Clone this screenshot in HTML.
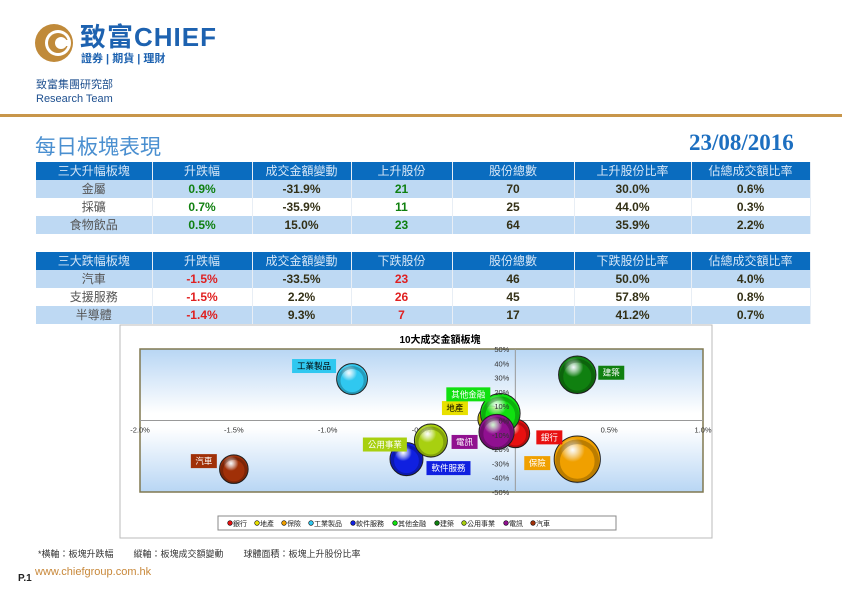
<!DOCTYPE html>
<html><head><meta charset="utf-8">
<style>
body{margin:0;width:842px;height:595px;background:#fff;position:relative;overflow:hidden;font-family:"Liberation Sans","Noto Sans CJK TC",sans-serif}
.abs{position:absolute}
table{position:absolute;left:36px;border-collapse:collapse;table-layout:fixed;width:774px;font-size:12px}
td{height:18px;padding:0;text-align:center;border-right:1px solid #e8eef5;line-height:18px}
tr.h td{background:#0a6cbf;color:#d6e6f6;font-size:12px}
tr.o td{background:#bed9f3}
tr.e td{background:#fff}
td.n{font-weight:bold;color:#333016}
td.nm{color:#555}
.g{color:#108010!important;font-weight:bold}
.r{color:#e02020!important;font-weight:bold}
</style></head><body>
<div class="abs" style="left:34px;top:23px;width:40px;height:40px">
<svg width="40" height="40"><circle cx="20" cy="20" r="19" fill="#c08a3a"/><circle cx="24" cy="20" r="13" fill="#fff"/><circle cx="24" cy="20" r="10" fill="#c08a3a"/><circle cx="27" cy="20" r="6" fill="#fff"/><rect x="27" y="17" width="8" height="6" fill="#fff"/></svg></div>
<div class="abs" style="left:80px;top:23px;font-size:26px;line-height:28px;font-weight:bold;color:#1d62b0;letter-spacing:1px">致富CHIEF</div>
<div class="abs" style="left:81px;top:53px;font-size:11px;line-height:13px;color:#1d62b0;font-weight:bold">證券 | 期貨 | 理財</div>
<div class="abs" style="left:36px;top:79px;font-size:11px;line-height:13px;color:#1d4f8f">致富集團研究部</div>
<div class="abs" style="left:36px;top:93px;font-size:11px;line-height:13px;color:#1d4f8f">Research Team</div>
<div class="abs" style="left:0;top:114px;width:842px;height:3px;background:#c8964a"></div>
<div class="abs" style="left:35px;top:131px;font-size:21px;color:#4a8fd0">每日板塊表現</div>
<div class="abs" style="left:689px;top:130px;font-size:23px;font-weight:bold;color:#1d6fc0;font-family:'Liberation Serif',serif">23/08/2016</div>

<table style="top:162px">
<colgroup><col style="width:116px"><col style="width:100px"><col style="width:99px"><col style="width:101px"><col style="width:122px"><col style="width:117px"><col style="width:119px"></colgroup>
<tr class="h"><td>三大升幅板塊</td><td>升跌幅</td><td>成交金額變動</td><td>上升股份</td><td>股份總數</td><td>上升股份比率</td><td>佔總成交額比率</td></tr>
<tr class="o"><td class="nm">金屬</td><td class="n g">0.9%</td><td class="n">-31.9%</td><td class="n g">21</td><td class="n">70</td><td class="n">30.0%</td><td class="n">0.6%</td></tr>
<tr class="e"><td class="nm">採礦</td><td class="n g">0.7%</td><td class="n">-35.9%</td><td class="n g">11</td><td class="n">25</td><td class="n">44.0%</td><td class="n">0.3%</td></tr>
<tr class="o"><td class="nm">食物飲品</td><td class="n g">0.5%</td><td class="n">15.0%</td><td class="n g">23</td><td class="n">64</td><td class="n">35.9%</td><td class="n">2.2%</td></tr>
</table>
<table style="top:252px">
<colgroup><col style="width:116px"><col style="width:100px"><col style="width:99px"><col style="width:101px"><col style="width:122px"><col style="width:117px"><col style="width:119px"></colgroup>
<tr class="h"><td>三大跌幅板塊</td><td>升跌幅</td><td>成交金額變動</td><td>下跌股份</td><td>股份總數</td><td>下跌股份比率</td><td>佔總成交額比率</td></tr>
<tr class="o"><td class="nm">汽車</td><td class="n r">-1.5%</td><td class="n">-33.5%</td><td class="n r">23</td><td class="n">46</td><td class="n">50.0%</td><td class="n">4.0%</td></tr>
<tr class="e"><td class="nm">支援服務</td><td class="n r">-1.5%</td><td class="n">2.2%</td><td class="n r">26</td><td class="n">45</td><td class="n">57.8%</td><td class="n">0.8%</td></tr>
<tr class="o"><td class="nm">半導體</td><td class="n r">-1.4%</td><td class="n">9.3%</td><td class="n r">7</td><td class="n">17</td><td class="n">41.2%</td><td class="n">0.7%</td></tr>
</table>

<svg id="chart" class="abs" style="left:0;top:0" width="842" height="595">
<defs>
<linearGradient id="bg" x1="0" y1="0" x2="0" y2="1"><stop offset="0" stop-color="#b8d6f4"/><stop offset="0.45" stop-color="#fff"/><stop offset="0.55" stop-color="#fff"/><stop offset="1" stop-color="#b8d6f4"/></linearGradient>
</defs>
<rect x="120" y="325" width="592" height="213" fill="#fff" stroke="#bbb"/>
<text x="440" y="343" text-anchor="middle" font-size="10" font-weight="bold" font-family="Liberation Sans,Noto Sans CJK TC,sans-serif">10大成交金額板塊</text>
<g id="plot"></g>
<rect x="218" y="516" width="398" height="14" fill="#fff" stroke="#888"/>
<g id="legend"></g>
</svg>

<div class="abs" style="left:38px;top:547px;font-size:9px;color:#333;white-space:pre">*橫軸：板塊升跌幅        縱軸：板塊成交額變動        球體面積：板塊上升股份比率</div>
<div class="abs" style="left:18px;top:573px;font-size:10px;font-weight:bold;color:#222">P.1</div>
<div class="abs" style="left:35px;top:566px;font-size:11px;color:#c8883a">www.chiefgroup.com.hk</div>

<script>
const sectors=["銀行","地產","保險","工業製品","軟件服務","其他金融","建築","公用事業","電訊","汽車"];
const xChange=[0.0,-0.13,0.33,-0.87,-0.58,-0.08,0.33,-0.45,-0.1,-1.5];
const yTurnover=[-9,1,-27,29,-27,5,32,-14,-8,-34];
const bubbleSize=[169,140,441,196,225,324,289,225,256,169];
const colors=["#e81010","#e8e000","#f0a000","#30c8f0","#1020e0","#10e010","#108010","#a8d010","#901090","#a03008"];
const xTicks=[-2,-1.5,-1,-0.5,0,0.5,1];
const yTicks=[50,40,30,20,10,0,-10,-20,-30,-40,-50];
const NS="http://www.w3.org/2000/svg";
const PX0=140,PX1=703,PY0=349,PY1=492;
const sx=v=>PX0+(v+2)/3*(PX1-PX0);
const sy=v=>PY0+(50-v)/100*(PY1-PY0);
const sr=v=>Math.sqrt(v)*1.1;
const g=document.getElementById('plot');
const defs=document.querySelector('#chart defs');
function mk(t,a,p){const e=document.createElementNS(NS,t);for(const k in a)e.setAttribute(k,a[k]);(p||g).appendChild(e);return e;}
const F="Liberation Sans,Noto Sans CJK TC,sans-serif";
const bgr=mk('rect',{x:PX0,y:PY0,width:PX1-PX0,height:PY1-PY0,fill:'url(#bg)',stroke:'#807850','stroke-width':1.5});


const x0=sx(0),y0=sy(0);
const ya=mk('line',{x1:x0,x2:x0,y1:PY0,y2:PY1,stroke:'#999'});


const xa=mk('line',{x1:PX0,x2:PX1,y1:y0,y2:y0,stroke:'#999'});


xTicks.forEach(v=>{const t=mk('text',{x:sx(v),y:y0+12,'text-anchor':'middle','font-size':7.5,'font-family':F,fill:'#333'});t.textContent=v.toFixed(1)+'%';

});
const bubbles=mk('g',{});
const order=[1,0,2,3,4,7,5,6,8,9];
const lblOff=[[34,4],[-36,-11],[-40,4],[-38,-13],[42,9],[-32,-19],[34,-2],[-46,4],[-32,10],[-30,-8]];
order.forEach(i=>{
 const rg=mk('radialGradient',{id:'rg'+i,cx:'0.4',cy:'0.3',r:'0.75'},defs);
 mk('stop',{offset:'0','stop-color':'#ffffff','stop-opacity':'0.8'},rg);
 mk('stop',{offset:'0.35','stop-color':colors[i]},rg);
 mk('stop',{offset:'1','stop-color':colors[i]},rg);
 const cx=sx(xChange[i]),cy=sy(yTurnover[i]),r=sr(bubbleSize[i]);
 const c=mk('circle',{cx:cx,cy:cy,r:r,fill:'url(#rg'+i+')',stroke:'#222','stroke-width':1},bubbles);
 
 
 const sh=mk('circle',{cx:cx,cy:cy+r*0.1,r:r*0.85,fill:'none',stroke:'rgba(0,0,0,0.22)','stroke-width':r*0.2},bubbles);
 
 
});
yTicks.forEach(v=>{const t=mk('text',{x:x0-6,y:sy(v)+3,'text-anchor':'end','font-size':7.5,'font-family':F,fill:'#333'});t.textContent=v+'%';

});
sectors.forEach((s,i)=>{
 const cx=sx(xChange[i])+lblOff[i][0],cy=sy(yTurnover[i])+lblOff[i][1];
 const w=s.length*9+8;
 const light=(i===1||i===3);
 const b=mk('rect',{x:cx-w/2,y:cy-7,width:w,height:14,fill:colors[i]});
 
 
 const t=mk('text',{x:cx,y:cy+3,'text-anchor':'middle','font-size':8.5,'font-family':F,fill:light?'#000':'#fff'});
 t.textContent=s;
 
 
});
const lg=document.getElementById('legend');
let lx=230;
sectors.forEach((s,i)=>{
 const c=mk('circle',{cx:lx,cy:523,r:2.3,fill:colors[i],stroke:'#000','stroke-width':0.6},lg);
 
 
 const t=mk('text',{x:lx+3,y:526,'font-size':7,'font-family':F,fill:'#222'},lg);
 t.textContent=s;
 
 
 lx+=s.length*7.5+12;
});
</script>
</body></html>
